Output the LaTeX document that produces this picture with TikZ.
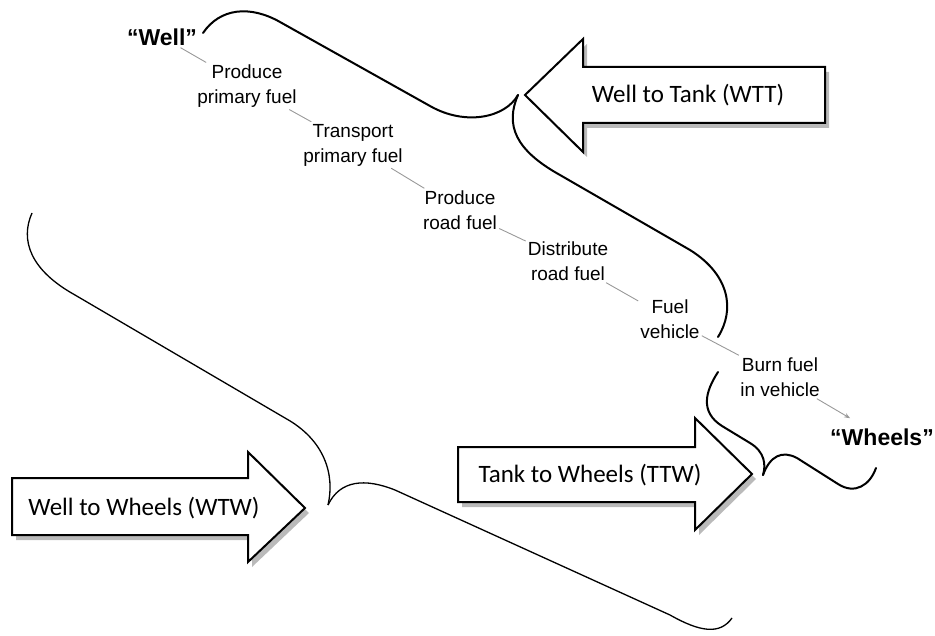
\documentclass[tikz,border=0pt]{standalone}
\usepackage{fontspec}
\setmainfont{Liberation Sans}
\newfontfamily\calibri{Carlito}
\usetikzlibrary{arrows.meta,shadows}

\begin{document}
\begin{tikzpicture}[x=1pt, y=-1pt,
  stage/.style = {align=center, inner sep=2pt, font=\fontsize{19}{25}\selectfont},
  ends/.style = {inner sep=2pt, font=\bfseries\fontsize{23}{27}\selectfont},
  block/.style = {draw, line width=2pt, fill=white,
    drop shadow={shadow xshift=4pt, shadow yshift=-5pt, fill=black!60, opacity=.45}},
  blocktext/.style = {font=\calibri\fontsize{25}{29}\selectfont},
  brace/.style = {line width=2pt, line cap=round},
  flow/.style = {gray!80, line width=0.9pt}]
\useasboundingbox (0,0) rectangle (935,636);

% the chain of stages
\node[ends] (well) at (162,37) {“Well”};
\node[stage] (p1) at (247,86) {Produce\\primary fuel};
\node[stage] (p2) at (353,145) {Transport\\primary fuel};
\node[stage] (p3) at (460,210) {Produce\\road fuel};
\node[stage] (p4) at (568,261) {Distribute\\road fuel};
\node[stage] (p5) at (670,319) {Fuel\\vehicle};
\node[stage] (p6) at (780,377) {Burn fuel\\in vehicle};
\node[ends] (wheels) at (882,437) {“Wheels”};
\draw[flow] (well) -- (p1) -- (p2) -- (p3) -- (p4) -- (p5) -- (p6);
\draw[flow, -{Stealth[length=6pt]}, shorten >=16pt] (p6) -- (wheels);

% block arrows
\draw[block] (525,95) -- (583,39) -- (583,67) -- (825,67) -- (825,123)
  -- (583,123) -- (583,152) -- cycle;
\node[blocktext] (wtt) at (688,95) {Well to Tank (WTT)};
\draw[block] (12,478) -- (248,478) -- (248,452) -- (305,508) -- (248,562)
  -- (248,535) -- (12,535) -- cycle;
\node[blocktext] (wtw) at (144,508) {Well to Wheels (WTW)};
\draw[block] (458,447) -- (695,447) -- (695,418) -- (752,474) -- (695,530)
  -- (695,502) -- (458,502) -- cycle;
\node[blocktext] (ttw) at (590,475) {Tank to Wheels (TTW)};

% braces
\draw[brace] (203,33) .. controls (220,8) and (250,5) .. (280,22) -- (430,106)
  .. controls (465,126) and (505,118) .. (518,95);
\draw[brace] (518,95) .. controls (505,125) and (515,150) .. (560,175) -- (690,250)
  .. controls (730,275) and (735,310) .. (718,337);
\draw[brace] (718,372) .. controls (705,392) and (700,412) .. (722,426) -- (750,443)
  .. controls (765,452) and (766,465) .. (763,475);
\draw[brace] (763,475) .. controls (770,456) and (782,450) .. (797,458) -- (838,484)
  .. controls (855,495) and (870,485) .. (876,468);
\draw[line width=1.3pt] (32,213) .. controls (20,240) and (30,270) .. (75,295) -- (285,418)
  .. controls (325,440) and (335,475) .. (328,505);
\draw[line width=1.3pt] (328,505) .. controls (340,480) and (365,478) .. (395,490) -- (670,615)
  .. controls (700,632) and (720,635) .. (732,618);
\end{tikzpicture}
\end{document}
